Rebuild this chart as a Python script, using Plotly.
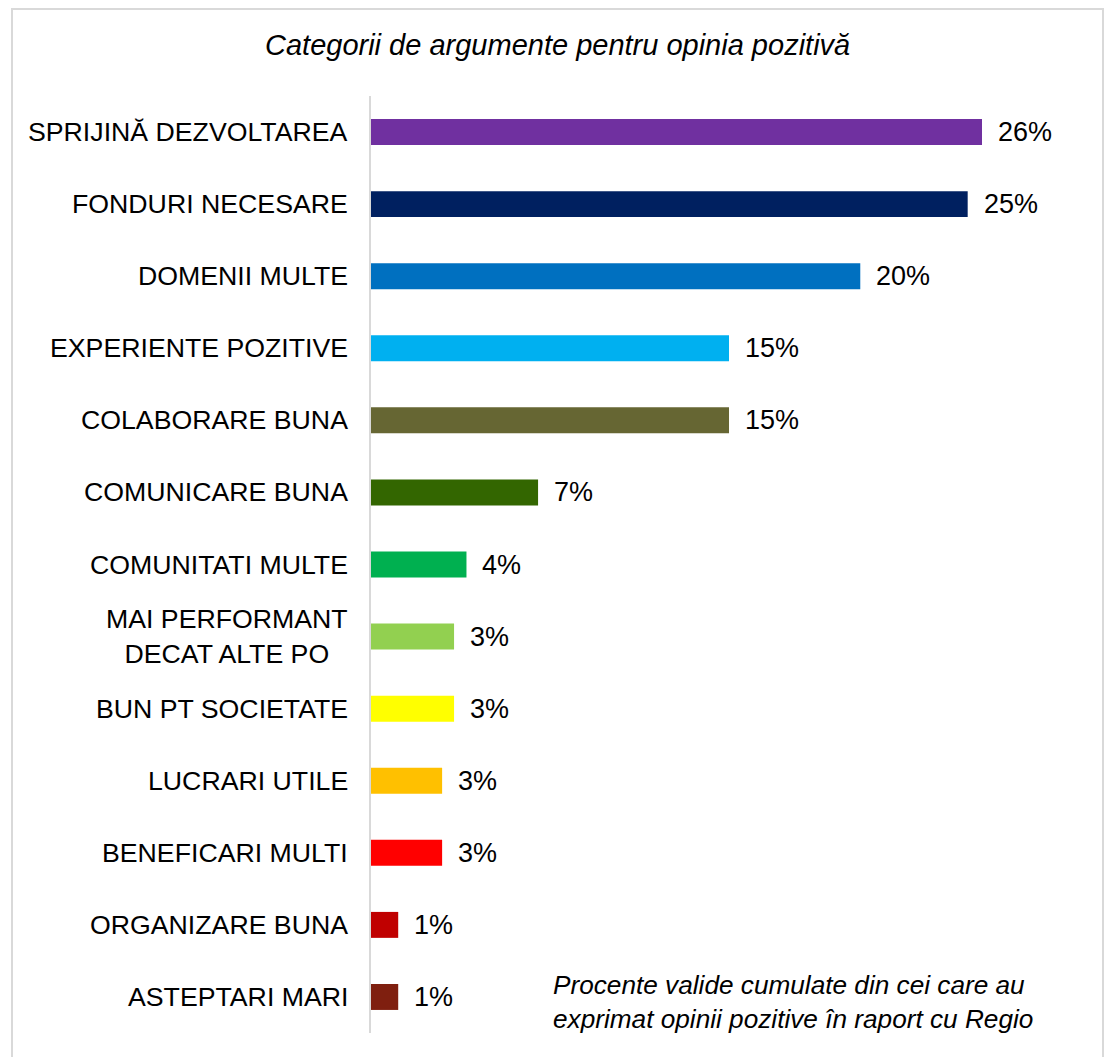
import plotly.graph_objects as go

# Argument categories (top to bottom), shares in percent, bar colours
categories = [
    "SPRIJINĂ DEZVOLTAREA",
    "FONDURI NECESARE",
    "DOMENII MULTE",
    "EXPERIENTE POZITIVE",
    "COLABORARE BUNA",
    "COMUNICARE BUNA",
    "COMUNITATI MULTE",
    "MAI PERFORMANT<br>DECAT ALTE PO",
    "BUN PT SOCIETATE",
    "LUCRARI UTILE",
    "BENEFICARI MULTI",
    "ORGANIZARE BUNA",
    "ASTEPTARI MARI",
]
shares = [25.6, 25.0, 20.5, 15.0, 15.0, 7.0, 4.0, 3.48, 3.48, 2.98, 2.98, 1.14, 1.14]
colors = [
    "#7030A0", "#002060", "#0070C0", "#00B0F0", "#666633", "#336600",
    "#00B050", "#92D050", "#FFFF00", "#FFC000", "#FF0000", "#C00000", "#7F1F0F",
]

title_text = "Categorii de argumente pentru opinia pozitivă"
note_text = ("Procente valide cumulate din cei care au<br>"
             "exprimat opinii pozitive în raport cu Regio")

FONT = "Liberation Sans, Arial, sans-serif"
W, H = 1106, 1057
ML, MR, MT, MB = 371, 46, 96, 24
PW, PH = W - ML - MR, H - MT - MB


def px_x(x):
    return (x - ML) / PW


def px_y(y):
    return (H - MB - y) / PH


fig = go.Figure(
    go.Bar(
        x=shares,
        y=categories,
        orientation="h",
        marker=dict(color=colors, line=dict(width=0)),
        hoverinfo="skip",
    )
)

annotations = []
# value labels to the right of each bar
for cat, val in zip(categories, shares):
    annotations.append(dict(
        x=val, y=cat, xref="x", yref="y", text=f"{val:.0f}%",
        showarrow=False, xanchor="left", yanchor="middle", xshift=14,
        font=dict(family=FONT, size=27, color="#000000"),
    ))
    # category labels, centred line by line, right edge left of the axis
    annotations.append(dict(
        x=0, y=cat, xref="paper", yref="y", text=cat,
        showarrow=False, xanchor="right", yanchor="middle", xshift=-21,
        align="center",
        font=dict(family=FONT, size=26.7, color="#000000"),
    ))

annotations.append(dict(
    x=px_x(557), y=px_y(45), xref="paper", yref="paper", text=f"<i>{title_text}</i>",
    showarrow=False, xanchor="center", yanchor="middle",
    font=dict(family=FONT, size=29, color="#000000"),
))
annotations.append(dict(
    x=px_x(551), y=px_y(1002), xref="paper", yref="paper", text=f"<i>{note_text}</i>",
    showarrow=False, xanchor="left", yanchor="middle", align="left",
    font=dict(family=FONT, size=26.2, color="#000000"),
))

fig.update_layout(
    width=W,
    height=H,
    margin=dict(l=ML, r=MR, t=MT, b=MB, pad=0),
    paper_bgcolor="#FFFFFF",
    plot_bgcolor="#FFFFFF",
    bargap=0.64,
    showlegend=False,
    xaxis=dict(visible=False, range=[0, PW * 25.6 / 611], fixedrange=True),
    yaxis=dict(
        autorange="reversed",
        showticklabels=False,
        showgrid=False,
        zeroline=False,
        showline=True,
        linecolor="#D9D9D9",
        linewidth=2,
        ticks="",
    ),
    annotations=annotations,
    shapes=[dict(
        type="rect", xref="paper", yref="paper",
        x0=px_x(12), x1=px_x(1103), y0=px_y(1070), y1=px_y(9),
        line=dict(color="#D9D9D9", width=2), fillcolor="rgba(0,0,0,0)", layer="below",
    )],
)

fig.write_html("out.html")
